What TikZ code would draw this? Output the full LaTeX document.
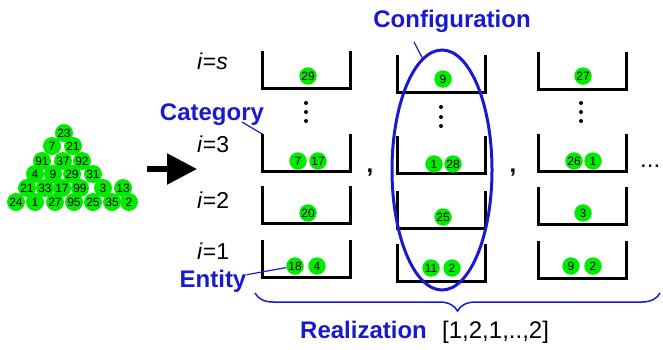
\documentclass[tikz,border=0pt]{standalone}
\usepackage{fontspec}
\setmainfont{Liberation Sans}
\usetikzlibrary{arrows.meta, shapes.geometric, decorations.pathreplacing}
\definecolor{LabelBlue}{RGB}{25, 25, 205}
\definecolor{BallGreen}{RGB}{0, 235, 0}

\begin{document}
\begin{tikzpicture}[
                x=1pt, y=-1pt,
                ball/.style={circle, fill=BallGreen, inner sep=0pt, minimum size=17.5pt, font=\fontsize{12}{13}\selectfont},
                tball/.style={ball, minimum size=18pt, font=\fontsize{12}{13}\selectfont},
                bucket/.style={minimum width=87pt, minimum height=37pt, inner sep=0pt},
                rim/.style={draw, line width=3pt},
                tag/.style={font=\fontsize{24}{28}\selectfont\bfseries, text=LabelBlue, inner sep=0pt, anchor=base},
                rowlab/.style={font=\fontsize{23}{28}\selectfont, inner sep=0pt, anchor=base west},
                sep/.style={font=\fontsize{24}{28}\selectfont, inner sep=0pt, anchor=base},
                pointer/.style={draw=LabelBlue, line width=1.2pt}
            ]
                \useasboundingbox (0,0) rectangle (663,349);

                % Pool of entities
                \node[tball] (t11) at (64,133) {23};
                \node[tball] (t21) at (52,146) {7};
                \node[tball] (t22) at (73,146) {21};
                \node[tball] (t31) at (42,161) {91};
                \node[tball] (t32) at (63,161) {37};
                \node[tball] (t33) at (82,161) {92};
                \node[tball] (t41) at (35,174) {4};
                \node[tball] (t42) at (53,174) {9};
                \node[tball] (t43) at (72,174) {29};
                \node[tball] (t44) at (93,174) {31};
                \node[tball] (t51) at (27,188) {21};
                \node[tball] (t52) at (45,188) {33};
                \node[tball] (t53) at (62,188) {17};
                \node[tball] (t54) at (80,188) {99};
                \node[tball] (t55) at (103,188) {3};
                \node[tball] (t56) at (123,188) {13};
                \node[tball] (t61) at (16,202) {24};
                \node[tball] (t62) at (35,202) {1};
                \node[tball] (t63) at (55,202) {27};
                \node[tball] (t64) at (74,202) {95};
                \node[tball] (t65) at (93,202) {25};
                \node[tball] (t66) at (112,202) {35};
                \node[tball] (t67) at (129,202) {2};

                % Arrow
                \coordinate (arrtail) at (147,169);
                \coordinate (arrtip) at (197,169);
                \draw[line width=5.5pt, -{Triangle[length=30pt, width=30pt]}] (arrtail) -- (arrtip);

                % Row labels
                \node[rowlab] (rs) at (197,69) {\textit{i}=\textit{s}};
                \node[rowlab] (r3) at (197,152) {\textit{i}=3};
                \node[rowlab] (r2) at (197,208) {\textit{i}=2};
                \node[rowlab] (r1) at (197,259) {\textit{i}=1};

                % Buckets
                \node[bucket] (bAs) at (306.5,70) {};
                \node[bucket] (bA3) at (306.5,153) {};
                \node[bucket] (bA2) at (306.5,205) {};
                \node[bucket] (bA1) at (306.5,259) {};
                \node[bucket] (bBs) at (441.5,74) {};
                \node[bucket] (bB3) at (441.5,155) {};
                \node[bucket] (bB2) at (441.5,209.5) {};
                \node[bucket] (bB1) at (441.5,263) {};
                \node[bucket] (bCs) at (582.5,70.5) {};
                \node[bucket] (bC3) at (582.5,152.5) {};
                \node[bucket] (bC2) at (582.5,205.5) {};
                \node[bucket] (bC1) at (582.5,259.5) {};
                \draw[rim] (bAs.north west) |- (bAs.south east) -- (bAs.north east);
                \draw[rim] (bA3.north west) |- (bA3.south east) -- (bA3.north east);
                \draw[rim] (bA2.north west) |- (bA2.south east) -- (bA2.north east);
                \draw[rim] (bA1.north west) |- (bA1.south east) -- (bA1.north east);
                \draw[rim] (bBs.north west) |- (bBs.south east) -- (bBs.north east);
                \draw[rim] (bB3.north west) |- (bB3.south east) -- (bB3.north east);
                \draw[rim] (bB2.north west) |- (bB2.south east) -- (bB2.north east);
                \draw[rim] (bB1.north west) |- (bB1.south east) -- (bB1.north east);
                \draw[rim] (bCs.north west) |- (bCs.south east) -- (bCs.north east);
                \draw[rim] (bC3.north west) |- (bC3.south east) -- (bC3.north east);
                \draw[rim] (bC2.north west) |- (bC2.south east) -- (bC2.north east);
                \draw[rim] (bC1.north west) |- (bC1.south east) -- (bC1.north east);

                % Vertical dots
                \fill (306,103) circle (2pt) (306,112) circle (2pt) (306,121) circle (2pt);
                \fill (441,107) circle (2pt) (441,117) circle (2pt) (441,126) circle (2pt);
                \fill (581,103) circle (2pt) (581,112) circle (2pt) (581,121) circle (2pt);

                % Configuration ellipse
                \node[ellipse, draw=LabelBlue, line width=3pt, minimum width=100pt, minimum height=240pt, inner sep=0pt] (cfg) at (442,170) {};

                % Entities in the buckets
                \node[ball] (xAs) at (308,76) {29};
                \node[ball] (xA3a) at (298,161) {7};
                \node[ball] (xA3b) at (318,161) {17};
                \node[ball] (xA2) at (308,213) {20};
                \node[ball] (xA1a) at (295,266) {18};
                \node[ball] (xA1b) at (317,266) {4};
                \node[ball] (xBs) at (443,79) {9};
                \node[ball] (xB3a) at (434,164) {1};
                \node[ball] (xB3b) at (453,164) {28};
                \node[ball] (xB2) at (443,217) {25};
                \node[ball] (xB1a) at (431,268) {11};
                \node[ball] (xB1b) at (452,268) {2};
                \node[ball] (xCs) at (583,76) {27};
                \node[ball] (xC3a) at (574,161) {26};
                \node[ball] (xC3b) at (593,161) {1};
                \node[ball] (xC2) at (583,213) {3};
                \node[ball] (xC1a) at (571,266) {9};
                \node[ball] (xC1b) at (593,266) {2};

                % Separators
                \node[sep] (comma1) at (370,172) {\textbf{,}};
                \node[sep] (comma2) at (513,172) {\textbf{,}};
                \node[sep, anchor=base west] (more) at (640,167) {...};

                % Labels
                \node[tag] (catlabel) at (212,120) {Category};
                \node[tag] (entlabel) at (213,287) {Entity};
                \node[tag] (cfglabel) at (452,27) {Configuration};
                \node[tag, anchor=base west] (reallabel) at (300,338) {Realization};
                \node[sep, anchor=base west] (realvalue) at (442,338) {[1,2,1,..,2]};
                \coordinate (cattail) at (242,122);
                \coordinate (cfgtail) at (414,42);
                \draw[pointer] (cattail) -- (bA3.north west);
                \draw[pointer] (entlabel) -- (xA1a);
                \draw[pointer] (cfgtail) -- (cfg.100);

                % Realization brace
                \coordinate (braceleft) at (255,293);
                \coordinate (braceright) at (660,293);
                \draw[LabelBlue, line width=1.5pt, decorate, decoration={brace, mirror, amplitude=18pt}] (braceleft) -- (braceright);
            \end{tikzpicture}
\end{document}
